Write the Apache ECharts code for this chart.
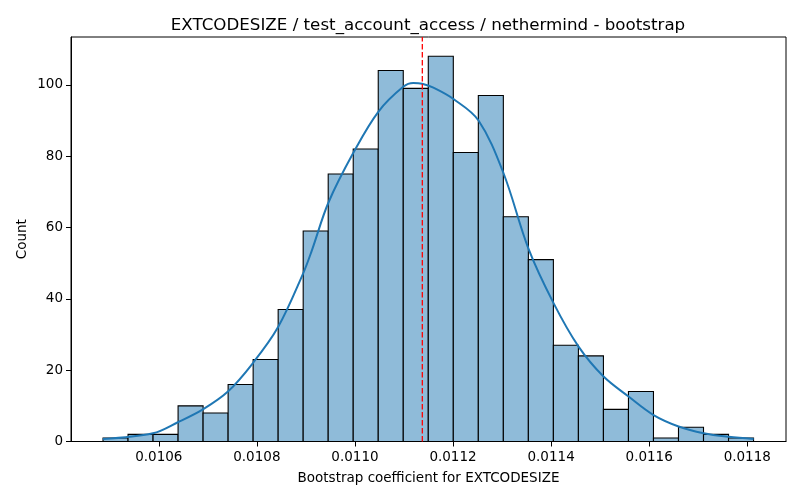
<!DOCTYPE html>
<html>
<head>
<meta charset="utf-8">
<script src="https://cdn.jsdelivr.net/npm/echarts@6/dist/echarts.min.js"></script>
<style>
  html, body { margin: 0; padding: 0; background: #fff; }
  #main { width: 800px; height: 500px; }
</style>
</head>
<body>
<div id="main"></div>
<script>
// histogram bins
var binStart = 0.0104863;
var binWidth = 0.00005102;
var counts = [1, 2, 2, 10, 8, 16, 23, 37, 59, 75, 82, 104, 99, 108, 81, 97, 63, 51, 27, 24, 9, 14, 1, 4, 2, 1];

// kde curve
var kdeX = [0.010486, 0.010588, 0.010639, 0.010690, 0.010741, 0.010792, 0.010843, 0.010894, 0.010912,
  0.010946, 0.010997, 0.011048, 0.011099, 0.011119, 0.011137, 0.011160, 0.011201, 0.011252, 0.011303,
  0.011354, 0.011405, 0.011456, 0.011507, 0.011558, 0.011609, 0.011660, 0.011711, 0.011762, 0.011813];
var kdeY = [0.7, 2.3, 5.4, 9, 14, 22, 32, 47, 53.5,
  67, 81, 92.5, 99.5, 100.5, 100.3, 99.2, 96, 90, 75.2,
  54, 38.8, 26.6, 18.2, 12.6, 7.4, 4.2, 2.3, 1.3, 0.7];

var meanValue = 0.0111374;

var xTicks = [0.0106, 0.0108, 0.0110, 0.0112, 0.0114, 0.0116, 0.0118];
var yTicks = [0, 20, 40, 60, 80, 100];

var font = 'DejaVu Sans';

var chart = echarts.init(document.getElementById('main'));

var histData = counts.map(function (c, i) {
  return [binStart + i * binWidth, binStart + (i + 1) * binWidth, c];
});
var kdeData = kdeX.map(function (x, i) { return [x, kdeY[i]]; });

var option = {
  animation: false,
  title: {
    text: 'EXTCODESIZE / test_account_access / nethermind - bootstrap',
    left: 423, top: 12, textAlign: 'center',
    textStyle: { fontFamily: font, fontSize: 16.7, fontWeight: 'normal', color: '#000' }
  },
  grid: {
    left: 71, right: 14, top: 37, bottom: 58.5,
    show: true, borderColor: '#000', borderWidth: 1, backgroundColor: 'transparent'
  },
  xAxis: {
    type: 'value',
    min: 0.010421, max: 0.011879,
    name: 'Bootstrap coefficient for EXTCODESIZE',
    nameLocation: 'middle', nameGap: 30,
    nameTextStyle: { fontFamily: font, fontSize: 13.5, color: '#000' },
    axisLine: { lineStyle: { color: '#000', width: 1 } },
    axisTick: { show: true, length: 5, customValues: xTicks, lineStyle: { color: '#000' } },
    axisLabel: {
      customValues: xTicks, margin: 9,
      fontFamily: font, fontSize: 13.5, color: '#000',
      formatter: function (v) { return v.toFixed(4); }
    },
    splitLine: { show: false }
  },
  yAxis: {
    type: 'value',
    min: 0, max: 113.4,
    name: 'Count',
    nameLocation: 'middle', nameGap: 42, nameMoveOverlap: false,
    nameTextStyle: { fontFamily: font, fontSize: 13.5, color: '#000' },
    axisLine: { show: true, lineStyle: { color: '#000', width: 1 } },
    axisTick: { show: true, length: 5, customValues: yTicks, lineStyle: { color: '#000' } },
    axisLabel: { customValues: yTicks, margin: 8, fontFamily: font, fontSize: 13.5, color: '#000' },
    splitLine: { show: false }
  },
  series: [
    {
      type: 'custom',
      data: histData,
      encode: { x: [0, 1], y: 2 },
      renderItem: function (params, api) {
        var top = api.coord([api.value(0), api.value(2)]);
        var bot = api.coord([api.value(1), 0]);
        return {
          type: 'rect',
          shape: { x: top[0], y: top[1], width: bot[0] - top[0], height: bot[1] - top[1] },
          style: { fill: '#8fbbd9', stroke: '#000', lineWidth: 1.1 }
        };
      },
      z: 2
    },
    {
      type: 'line',
      data: kdeData,
      smooth: 0.35,
      showSymbol: false,
      lineStyle: { color: '#1f77b4', width: 2 },
      z: 3
    },
    {
      type: 'line',
      data: [[meanValue, 0], [meanValue, 113.4]],
      showSymbol: false,
      lineStyle: { color: '#ff0000', width: 1.3, type: [5.5, 2.5] },
      z: 4
    }
  ]
};

chart.setOption(option);
</script>
</body>
</html>
